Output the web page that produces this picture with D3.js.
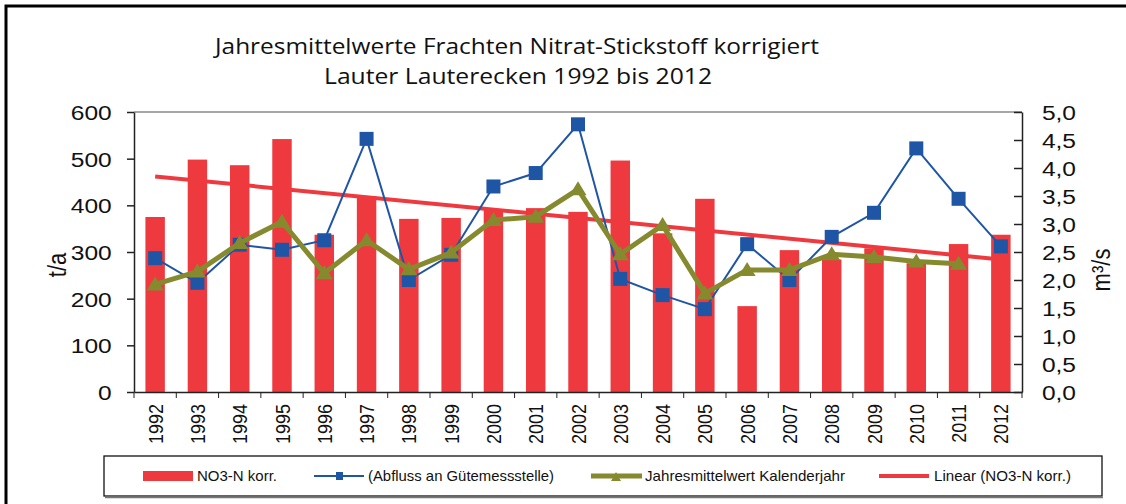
<!DOCTYPE html>
<html>
<head>
<meta charset="utf-8">
<script src="https://cdn.jsdelivr.net/npm/d3@7"></script>
<style>
  body { margin: 0; background: #fff; }
  svg { display: block; }
</style>
</head>
<body>
<div id="chart"></div>
<script>
// Werte
const years = ["1992","1993","1994","1995","1996","1997","1998","1999","2000","2001","2002",
               "2003","2004","2005","2006","2007","2008","2009","2010","2011","2012"];
const no3Korr = [375,498,486,542,337,420,371,373,390,394,386,496,340,414,184,304,284,308,276,317,337];
const abfluss = [2.39,1.95,2.63,2.54,2.71,4.52,2.0,2.45,3.67,3.91,4.78,2.02,1.73,1.48,2.64,2.0,2.77,3.2,4.35,3.45,2.6];
const jahresmittel = [1.92,2.15,2.66,3.04,2.12,2.71,2.19,2.49,3.07,3.13,3.62,2.46,2.98,1.76,2.18,2.18,2.46,2.41,2.33,2.29,null];
const leftTicks = [0,100,200,300,400,500,600];
const rightTicks = [0,0.5,1,1.5,2,2.5,3,3.5,4,4.5,5];
const legendLabels = ["NO3-N korr.","(Abfluss an Gütemessstelle)","Jahresmittelwert Kalenderjahr","Linear (NO3-N korr.)"];

const W = 1126, H = 504;
const plot = {left: 134, right: 1022, top: 112, bottom: 392};
const RED = "#ee3a3e", BLUE = "#1f55a5", GREEN = "#868a2f";
const font = "'Liberation Sans', Arial, sans-serif";
const sx = 1.17; // Bild ist etwas in die Breite gezogen

const svg = d3.select("#chart").append("svg")
    .attr("width", W).attr("height", H);

// Rahmen
svg.append("rect")
    .attr("x", 6).attr("y", 6).attr("width", W + 20).attr("height", H + 20)
    .attr("fill", "none").attr("stroke", "#000").attr("stroke-width", 3);

// Titel
const title = svg.append("g").attr("font-family", "'Open Sans', sans-serif")
    .attr("font-size", 22).attr("fill", "#111").attr("text-anchor", "middle");
title.append("text").attr("x", 517).attr("y", 54)
    .attr("textLength", 604).attr("lengthAdjust", "spacingAndGlyphs")
    .text("Jahresmittelwerte  Frachten Nitrat-Stickstoff korrigiert");
title.append("text").attr("x", 518).attr("y", 84)
    .attr("textLength", 388).attr("lengthAdjust", "spacingAndGlyphs")
    .text("Lauter Lauterecken  1992  bis 2012");

const x = d3.scaleBand().domain(years).range([plot.left, plot.right]).padding(0);
const yL = d3.scaleLinear().domain([0, 600]).range([plot.bottom, plot.top]);
const yR = d3.scaleLinear().domain([0, 5]).range([plot.bottom, plot.top]);
const barW = x.bandwidth() * 0.46;
const cx = d => x(d) + x.bandwidth() / 2;

// obere Begrenzung
svg.append("line")
    .attr("x1", plot.left).attr("x2", plot.right)
    .attr("y1", plot.top).attr("y2", plot.top)
    .attr("stroke", "#8a8a8a").attr("stroke-width", 1.5);

// Balken
svg.append("g").selectAll("rect")
    .data(years)
    .join("rect")
    .attr("x", d => cx(d) - barW / 2)
    .attr("width", barW)
    .attr("y", (d, i) => yL(no3Korr[i]))
    .attr("height", (d, i) => yL(0) - yL(no3Korr[i]))
    .attr("fill", RED);

// lineare Trendlinie (kleinste Quadrate über die Balkenwerte)
const n = no3Korr.length;
const idx = d3.range(n);
const mx = d3.mean(idx), my = d3.mean(no3Korr);
const slope = d3.sum(idx, i => (i - mx) * (no3Korr[i] - my)) / d3.sum(idx, i => (i - mx) ** 2);
const icpt = my - slope * mx;
svg.append("line")
    .attr("x1", cx(years[0])).attr("y1", yL(icpt))
    .attr("x2", cx(years[n - 1])).attr("y2", yL(icpt + slope * (n - 1)))
    .attr("stroke", RED).attr("stroke-width", 4);

// Abfluss
const lineR = d3.line().defined(d => d.v != null).x(d => cx(d.year)).y(d => yR(d.v));
const abData = years.map((year, i) => ({year, v: abfluss[i]}));
svg.append("path").datum(abData)
    .attr("d", lineR).attr("fill", "none").attr("stroke", BLUE).attr("stroke-width", 2);
svg.append("g").selectAll("rect")
    .data(abData)
    .join("rect")
    .attr("x", d => cx(d.year) - 7).attr("y", d => yR(d.v) - 7)
    .attr("width", 14).attr("height", 14)
    .attr("fill", BLUE);

// Jahresmittelwert
const jmData = years.map((year, i) => ({year, v: jahresmittel[i]})).filter(d => d.v != null);
svg.append("path").datum(jmData)
    .attr("d", lineR).attr("fill", "none").attr("stroke", GREEN)
    .attr("stroke-width", 5).attr("stroke-linejoin", "round");
svg.append("g").selectAll("path")
    .data(jmData)
    .join("path")
    .attr("transform", d => `translate(${cx(d.year)},${yR(d.v)})`)
    .attr("d", "M0,-8L8.5,6L-8.5,6Z")
    .attr("fill", GREEN);

// Achsen
const axisColor = "#222";
const gL = svg.append("g").attr("transform", `translate(${plot.left},0)`)
    .call(d3.axisLeft(yL).tickValues(leftTicks).tickSizeInner(7).tickSizeOuter(0));
gL.selectAll("text")
    .attr("x", -19).attr("dy", "0.36em")
    .attr("transform", `scale(${sx},1)`)
    .attr("font-size", 21).attr("font-family", font).attr("fill", "#111");

const fmt = d => d3.format(".1f")(d).replace(".", ",");
const gR = svg.append("g").attr("transform", `translate(${plot.right},0)`)
    .call(d3.axisRight(yR).tickValues(rightTicks).tickFormat(fmt).tickSizeInner(-8).tickSizeOuter(0));
gR.selectAll("text")
    .attr("x", 17).attr("dy", "0.36em")
    .attr("transform", `scale(${sx},1)`)
    .attr("font-size", 21).attr("font-family", font).attr("fill", "#111");

const gX = svg.append("g").attr("transform", `translate(0,${plot.bottom})`)
    .call(d3.axisBottom(x).tickSize(0).tickPadding(0));
gX.selectAll(".tick text")
    .attr("y", 0).attr("dy", 0)
    .attr("text-anchor", "end")
    .attr("transform", `translate(0,12) rotate(-90) scale(1,${sx})`)
    .attr("dy", "0.36em")
    .attr("font-size", 18).attr("font-family", font).attr("fill", "#111");
// Teilstriche an den Kategoriegrenzen
gX.selectAll("line.bound")
    .data(years.map(d => x(d)).concat([plot.right]))
    .join("line")
    .attr("class", "bound")
    .attr("x1", d => d).attr("x2", d => d)
    .attr("y1", 0).attr("y2", 6)
    .attr("stroke", axisColor);

[gL, gR, gX].forEach(g => {
  g.selectAll(".domain, .tick line").attr("stroke", axisColor).attr("stroke-width", 1.5);
});

// Achsentitel
svg.append("text")
    .attr("transform", `translate(66,265) rotate(-90) scale(1,${sx})`)
    .attr("text-anchor", "middle")
    .attr("font-size", 22).attr("font-family", font).attr("fill", "#111")
    .text("t/a");
svg.append("text")
    .attr("transform", `translate(1110,270) rotate(-90) scale(1,${sx})`)
    .attr("text-anchor", "middle")
    .attr("font-size", 22).attr("font-family", font).attr("fill", "#111")
    .text("m³/s");

// Legende
const lg = svg.append("g");
lg.append("rect")
    .attr("x", 104).attr("y", 456).attr("width", 998).attr("height", 40)
    .attr("fill", "#fff").attr("stroke", "#111").attr("stroke-width", 1.3);
lg.append("line")
    .attr("x1", 105).attr("x2", 1103).attr("y1", 497.5).attr("y2", 497.5)
    .attr("stroke", "#777").attr("stroke-width", 1.5);

const ly = 476;
const legendX = [143, 314, 591, 879];
const legendTextX = [197, 368, 645, 934];
const legendTextW = [80, 186, 200, 137];

lg.append("rect").attr("x", legendX[0]).attr("y", ly - 5).attr("width", 50).attr("height", 10).attr("fill", RED);
lg.append("line").attr("x1", legendX[1]).attr("x2", legendX[1] + 50).attr("y1", ly).attr("y2", ly)
    .attr("stroke", BLUE).attr("stroke-width", 2);
lg.append("rect").attr("x", legendX[1] + 22).attr("y", ly - 4).attr("width", 7).attr("height", 8).attr("fill", BLUE);
lg.append("line").attr("x1", legendX[2]).attr("x2", legendX[2] + 51).attr("y1", ly).attr("y2", ly)
    .attr("stroke", GREEN).attr("stroke-width", 5);
lg.append("path").attr("transform", `translate(${legendX[2] + 25},${ly})`)
    .attr("d", "M0,-4L5,5L-5,5Z").attr("fill", GREEN);
lg.append("line").attr("x1", legendX[3]).attr("x2", legendX[3] + 50).attr("y1", ly).attr("y2", ly)
    .attr("stroke", RED).attr("stroke-width", 4);

lg.selectAll("text.leg")
    .data(legendLabels)
    .join("text")
    .attr("class", "leg")
    .attr("x", (d, i) => legendTextX[i]).attr("y", ly + 5)
    .attr("textLength", (d, i) => legendTextW[i]).attr("lengthAdjust", "spacingAndGlyphs")
    .attr("font-size", 15).attr("font-family", font).attr("fill", "#111")
    .text(d => d);
</script>
</body>
</html>
